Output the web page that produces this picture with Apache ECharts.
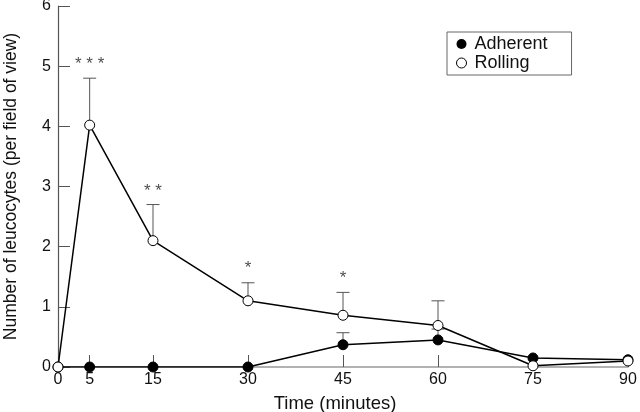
<!DOCTYPE html>
<html><head><meta charset="utf-8">
<script src="https://cdn.jsdelivr.net/npm/echarts@6/dist/echarts.min.js"></script>
<style>html,body{margin:0;padding:0;background:#fff}#c{width:640px;height:412px}</style>
</head><body><div id="c"></div>
<script>
var times = [0, 5, 15, 30, 45, 60, 75, 90];
var adherent = [0, 0, 0, 0, 0.37, 0.45, 0.15, 0.12];
var adherentErrTop = [null, null, null, null, 0.57, 0.63, null, null];
var rolling = [0, 4.02, 2.1, 1.1, 0.86, 0.69, 0.02, 0.1];
var rollingErrTop = [null, 4.8, 2.7, 1.4, 1.24, 1.1, null, null];
var sigX = [5, 15, 30, 45];
var sigY = [5.03, 2.92, 1.64, 1.47];
var sigText = ['* * *', '* *', '*', '*'];
var xLabelValues = [0, 5, 15, 30, 45, 60, 75, 90];
var xTickValues = [5, 15, 30, 45, 60, 75, 90];

function pairs(xs, ys) { return xs.map(function (x, i) { return [x, ys[i]]; }); }
function errData(vals, tops) {
  var out = [];
  times.forEach(function (t, i) { if (tops[i] != null) out.push([t, vals[i], tops[i]]); });
  return out;
}
function errRender(params, api) {
  var x = api.value(0), lo = api.value(1), hi = api.value(2);
  var p0 = api.coord([x, lo]), p1 = api.coord([x, hi]);
  var cap = 6.5;
  return {
    type: 'group',
    children: [
      { type: 'line', shape: { x1: p0[0], y1: p0[1], x2: p1[0], y2: p1[1] }, style: { stroke: '#555', lineWidth: 1 } },
      { type: 'line', shape: { x1: p1[0] - cap, y1: p1[1], x2: p1[0] + cap, y2: p1[1] }, style: { stroke: '#555', lineWidth: 1 } }
    ]
  };
}
var font = '"Liberation Sans", Arial, Helvetica, sans-serif';
var chart = echarts.init(document.getElementById('c'), null, { renderer: 'canvas' });
chart.setOption({
  animation: false,
  textStyle: { fontFamily: font },
  grid: { left: 58, right: 12, top: 6, bottom: 45, containLabel: false, outerBoundsMode: 'none' },
  legend: {
    left: 447, top: 32, orient: 'vertical', itemGap: 1,
    padding: [3, 24, 3, 9],
    borderColor: '#666', borderWidth: 1,
    itemWidth: 10, itemHeight: 10,
    textStyle: { fontSize: 18, color: '#111', fontFamily: font, padding: [0, 0, 0, 3] },
    data: [
      { name: 'Adherent', icon: 'circle', itemStyle: { color: '#000', borderColor: '#000' } },
      { name: 'Rolling', icon: 'circle', itemStyle: { color: '#fff', borderColor: '#000', borderWidth: 1 } }
    ]
  },
  xAxis: {
    type: 'value', min: 0, max: 90, interval: 5,
    name: 'Time (minutes)', nameLocation: 'middle', nameGap: 27,
    nameTextStyle: { fontSize: 18.5, color: '#111', padding: [0, 16, 0, 0] },
    axisLine: { lineStyle: { color: '#999', width: 1.5 } },
    axisTick: { show: true, inside: true, length: 12, customValues: xTickValues, lineStyle: { color: '#555' } },
    axisLabel: { customValues: xLabelValues, fontSize: 16, color: '#111', margin: 5 },
    splitLine: { show: false }
  },
  yAxis: {
    type: 'value', min: 0, max: 6, interval: 1,
    name: 'Number of leucocytes (per field of view)', nameLocation: 'middle', nameGap: 38,
    nameTextStyle: { fontSize: 17.5, color: '#111' },
    axisLine: { show: true, lineStyle: { color: '#555', width: 1.2 } },
    axisTick: { show: true, inside: true, length: 12, lineStyle: { color: '#555' } },
    axisLabel: { fontSize: 16, color: '#111', margin: 7 },
    splitLine: { show: false }
  },
  series: [
    { type: 'custom', name: 'errA', renderItem: errRender, data: errData(adherent, adherentErrTop), z: 1, silent: true, encode: { x: 0, y: [1, 2] } },
    { type: 'custom', name: 'errR', renderItem: errRender, data: errData(rolling, rollingErrTop), z: 1, silent: true, encode: { x: 0, y: [1, 2] } },
    {
      type: 'line', name: 'Adherent', data: pairs(times, adherent), z: 3,
      symbol: 'circle', symbolSize: 10,
      lineStyle: { color: '#000', width: 1.5 },
      itemStyle: { color: '#000', borderColor: '#000' }
    },
    {
      type: 'line', name: 'Rolling', data: pairs(times, rolling), z: 4,
      symbol: 'circle', symbolSize: 10,
      lineStyle: { color: '#000', width: 1.5 },
      itemStyle: { color: '#fff', borderColor: '#000', borderWidth: 1 }
    },
    {
      type: 'scatter', name: 'sig', data: pairs(sigX, sigY), symbolSize: 0, silent: true,
      label: { show: true, position: 'inside', fontSize: 17, color: '#222',
        formatter: function (p) { return sigText[p.dataIndex]; } }
    }
  ]
});
</script></body></html>
